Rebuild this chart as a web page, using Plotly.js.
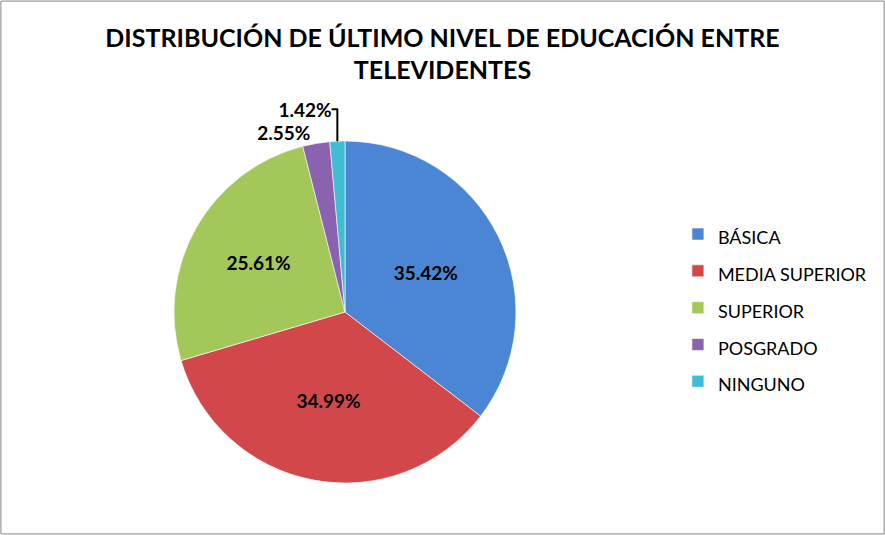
<!DOCTYPE html>
<html>
<head>
<meta charset="utf-8">
<script src="https://cdn.plot.ly/plotly-3.0.1.min.js"></script>
<style>
  html, body { margin: 0; padding: 0; background: #fff; }
  #chart { width: 885px; height: 535px; }
</style>
</head>
<body>
<div id="chart"></div>
<script>
// Niveles de educación y su porcentaje
const niveles = ["BÁSICA", "MEDIA SUPERIOR", "SUPERIOR", "POSGRADO", "NINGUNO"];
const porcentajes = [35.42, 34.99, 25.61, 2.55, 1.42];
const colores = ["#4a86d4", "#d2484a", "#a3c758", "#8a62b0", "#40bcd4"];
const posiciones = ["inside", "inside", "inside", "outside", "outside"];

// La leyenda usa una fuente grande para separar las entradas,
// y el texto visible va en un span más pequeño.
const etiquetas = niveles.map((n) => `<span style="font-size:18px">${n}</span>`);

const traza = {
    type: "pie",
    labels: etiquetas,
    values: porcentajes,
    sort: false,
    direction: "clockwise",
    rotation: 0,
    marker: { colors: colores, line: { color: "rgba(255,255,255,0.6)", width: 1 } },
    text: porcentajes.map((v) => v.toFixed(2) + "%"),
    textinfo: "text",
    textposition: posiciones,
    insidetextorientation: "horizontal",
    textfont: { family: "Lato, sans-serif", size: 19, color: "#000", weight: "bold" },
    outsidetextfont: { family: "Lato, sans-serif", size: 19, color: "#000", weight: "bold" },
    domain: { x: [0.1966, 0.583], y: [0.0972, 0.7364] },
    hoverinfo: "label+percent",
};

const layout = {
    width: 885,
    height: 535,
    margin: { l: 0, r: 0, t: 0, b: 0 },
    paper_bgcolor: "#fff",
    title: {
        text: "<b>DISTRIBUCIÓN DE ÚLTIMO NIVEL DE EDUCACIÓN ENTRE<br>TELEVIDENTES</b>",
        font: { family: "Lato, sans-serif", size: 25, color: "#000" },
        x: 0.5,
        xanchor: "center",
        y: 0.913,
        yanchor: "middle",
    },
    showlegend: true,
    legend: {
        x: 0.766,
        y: 0.424,
        xanchor: "left",
        yanchor: "middle",
        font: { family: "Lato, sans-serif", size: 26, color: "#000" },
        itemwidth: 30,
    },
    shapes: [{
        type: "rect", xref: "paper", yref: "paper",
        x0: 0.001, x1: 0.999, y0: 0.002, y1: 0.998,
        line: { color: "#868686", width: 1 },
    }],
};

Plotly.newPlot("chart", [traza], layout, { displayModeBar: false });
</script>
</body>
</html>
